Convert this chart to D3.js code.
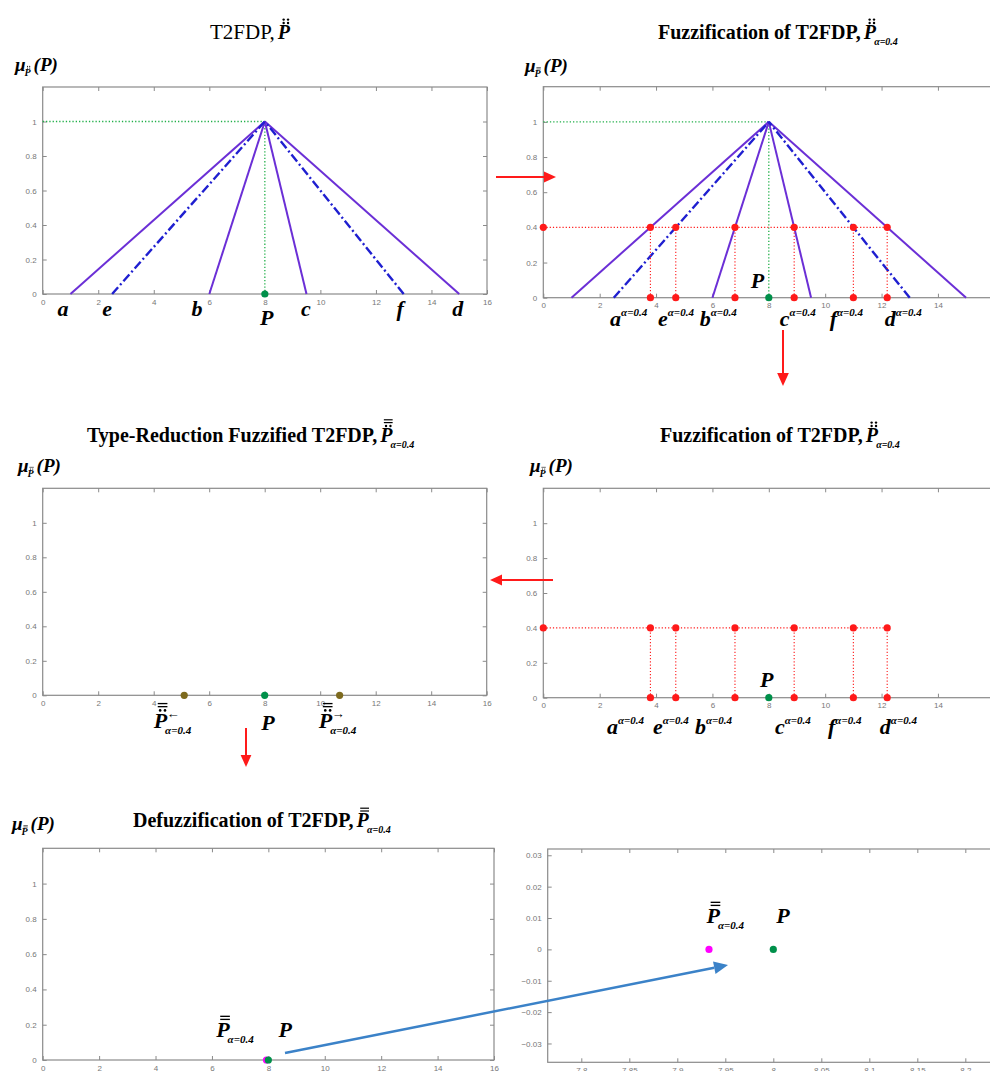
<!DOCTYPE html>
<html>
<head>
<meta charset="utf-8">
<script src="https://cdn.jsdelivr.net/npm/d3@7"></script>
<style>
body{margin:0;background:#fff}
.tick-lab{font-family:Arial,"Liberation Sans",sans-serif;font-size:8px;fill:#777}
.lab{font-family:"Liberation Serif",serif;font-style:italic;font-weight:bold;fill:#000}
.ttl{font-family:"Liberation Serif",serif;fill:#000}
</style>
</head>
<body>
<div id="chart"></div>
<script>
// ---- data ----
var apex = [8, 1]
var solidFeet = [1, 6, 9.5, 15]        // a, b, c, d
var dashFeet = [2.5, 13]               // e, f
var alphaLevel = 0.4
var cutNames = ["a", "e", "b", "c", "f", "d"]
var alphaCuts = [3.8, 4.7, 6.8, 8.9, 11, 12.2]
var reducedPts = [5.1, 10.7]           // left / right type-reduced values
var defuzzPt = 7.933
var crispP = 8
var xTicks = [0, 2, 4, 6, 8, 10, 12, 14, 16]
var yTicks = [0, 0.2, 0.4, 0.6, 0.8, 1]
var zoomXTicks = [7.8, 7.85, 7.9, 7.95, 8, 8.05, 8.1, 8.15, 8.2]
var zoomYTicks = [-0.03, -0.02, -0.01, 0, 0.01, 0.02, 0.03]

// label anchors (data units)
var p1LabelX = [0.73, 2.32, 5.56, 9.48, 12.87, 14.95]
var p2LabelX = [2.37, 4.07, 5.55, 8.39, 10.16, 12.11]
var p4LabelX = [2.26, 3.89, 5.38, 8.22, 10.1, 11.94]

var purple = "#6b2fd6", blue = "#1f1fd0", red = "#ff1a1a", green = "#00904a"

var svg = d3.select("#chart").append("svg")
    .attr("width", 990).attr("height", 1071)

function makePanel(left, top, w, h, xDom, yDom, xt, yt, fmt) {
    var g = svg.append("g").attr("transform", "translate(" + left + "," + top + ")")
    var x = d3.scaleLinear().domain(xDom).range([0, w])
    var y = d3.scaleLinear().domain(yDom).range([h, 0])
    g.append("rect").attr("width", w).attr("height", h)
        .attr("fill", "none").attr("stroke", "#8a8a8a").attr("stroke-width", 1.2)
    var tl = 4
    // inward ticks on all four sides, MATLAB style
    g.append("g").attr("transform", "translate(0," + h + ")")
        .call(d3.axisBottom(x).tickValues(xt).tickSizeInner(-tl).tickSizeOuter(0).tickFormat(fmt || d3.format("")).tickPadding(5))
    g.append("g")
        .call(d3.axisTop(x).tickValues(xt).tickSizeInner(-tl).tickSizeOuter(0).tickFormat(""))
    g.append("g")
        .call(d3.axisLeft(y).tickValues(yt).tickSizeInner(-tl).tickSizeOuter(0).tickFormat(fmt || d3.format("")).tickPadding(6))
    g.append("g").attr("transform", "translate(" + w + ",0)")
        .call(d3.axisRight(y).tickValues(yt).tickSizeInner(-tl).tickSizeOuter(0).tickFormat(""))
    g.selectAll(".domain").remove()
    g.selectAll(".tick line").attr("stroke", "#8a8a8a")
    g.selectAll(".tick text").attr("class", "tick-lab").attr("font-size", null).attr("font-family", null).attr("fill", null)
    return {g: g, x: x, y: y}
}

// italic bold P with accents stacked above, optional sub / sup
function accentP(g, x, y, size, marks, sub, sup) {
    var t = g.append("text").attr("class", "lab").attr("x", x).attr("y", y)
        .attr("font-size", size).text("P")
    var w = t.node().getComputedTextLength()
    var cx = x + w * 0.66, cy = y - size * 0.8
    marks.forEach(function (m) {
        if (m == "dots") {
            g.append("circle").attr("cx", cx - size * 0.11).attr("cy", cy).attr("r", size * 0.06).attr("fill", "#000")
            g.append("circle").attr("cx", cx + size * 0.11).attr("cy", cy).attr("r", size * 0.06).attr("fill", "#000")
            cy -= size * 0.17
        } else {
            g.append("line").attr("x1", cx - size * 0.22).attr("x2", cx + size * 0.22)
                .attr("y1", cy).attr("y2", cy).attr("stroke", "#000").attr("stroke-width", size * 0.06)
            cy -= size * 0.14
        }
    })
    if (sub) g.append("text").attr("class", "lab").attr("x", x + w * 0.85).attr("y", y + size * 0.28)
        .attr("font-size", size * 0.5).text(sub)
    if (sup) g.append("text").attr("class", "lab").attr("x", x + w * 0.95).attr("y", y - size * 0.45)
        .attr("font-size", size * 0.6).attr("font-style", "normal").text(sup)
    return w
}

function title(x, y, str, marks, sub, bold) {
    var t = svg.append("text").attr("class", "ttl").attr("x", x).attr("y", y)
        .attr("font-size", bold ? 20 : 21).attr("font-weight", bold ? "bold" : "normal").text(str)
    var w = t.node().getComputedTextLength()
    accentP(svg, x + w + 3, y, 20, marks, sub)
}

function muLabel(x, y, marks) {
    var t = svg.append("text").attr("class", "lab").attr("x", x).attr("y", y).attr("font-size", 19).text("\u03bc")
    var w = t.node().getComputedTextLength()
    accentP(svg, x + w - 1, y + 5, 10, marks)
    svg.append("text").attr("class", "lab").attr("x", x + w + 8).attr("y", y).attr("font-size", 19).text("(P)")
}

function supLabel(g, x, y, base, sup) {
    var t = g.append("text").attr("class", "lab").attr("x", x).attr("y", y)
    t.append("tspan").attr("font-size", 22).text(base)
    t.append("tspan").attr("dy", -10).attr("font-size", 11).text(sup)
}

function dot(g, cx, cy, col, r) {
    g.append("circle").attr("cx", cx).attr("cy", cy).attr("r", r || 3.6).attr("fill", col)
}

function drawTriangles(p) {
    var line = d3.line().x(function (d) { return p.x(d[0]) }).y(function (d) { return p.y(d[1]) })
    // green guides
    p.g.append("path").attr("d", line([[0, apex[1]], apex])).attr("stroke", "#22b04a").attr("stroke-width", 1.3)
        .attr("stroke-dasharray", "1.3,2").attr("fill", "none")
    p.g.append("path").attr("d", line([apex, [apex[0], 0]])).attr("stroke", "#22b04a").attr("stroke-width", 1.3)
        .attr("stroke-dasharray", "1.3,2").attr("fill", "none")
    solidFeet.forEach(function (f) {
        p.g.append("path").attr("d", line([[f, 0], apex])).attr("stroke", purple).attr("stroke-width", 2).attr("fill", "none")
    })
    dashFeet.forEach(function (f) {
        p.g.append("path").attr("d", line([[f, 0], apex])).attr("stroke", blue).attr("stroke-width", 2.4)
            .attr("stroke-dasharray", "9,3,2,3").attr("fill", "none")
    })
}

function drawCuts(p) {
    var line = d3.line().x(function (d) { return p.x(d[0]) }).y(function (d) { return p.y(d[1]) })
    p.g.append("path").attr("d", line([[0, alphaLevel], [d3.max(alphaCuts), alphaLevel]]))
        .attr("stroke", red).attr("stroke-width", 1.1).attr("stroke-dasharray", "1.2,2").attr("fill", "none")
    alphaCuts.forEach(function (c) {
        p.g.append("path").attr("d", line([[c, 0], [c, alphaLevel]]))
            .attr("stroke", red).attr("stroke-width", 1.1).attr("stroke-dasharray", "1.2,2").attr("fill", "none")
    })
    dot(p.g, p.x(0), p.y(alphaLevel), red)
    alphaCuts.forEach(function (c) {
        dot(p.g, p.x(c), p.y(alphaLevel), red)
        dot(p.g, p.x(c), p.y(0), red)
    })
}

// ---- panel 1 : T2FDP ----
var p1 = makePanel(42.7, 87, 444.3, 207, [0, 16], [0, 1.2], xTicks, yTicks)
drawTriangles(p1)
dot(p1.g, p1.x(crispP), p1.y(0), green)
cutNames.forEach(function (n, i) {
    p1.g.append("text").attr("class", "lab").attr("font-size", 22).attr("text-anchor", "middle")
        .attr("x", p1.x(p1LabelX[i])).attr("y", 316 - 87).text(n)
})
p1.g.append("text").attr("class", "lab").attr("font-size", 22).attr("text-anchor", "middle")
    .attr("x", p1.x(8.07)).attr("y", 325 - 87).text("P")

// ---- panel 2 : fuzzification ----
var p2 = makePanel(543.3, 86.7, 451, 211, [0, 16], [0, 1.2], xTicks, yTicks)
drawTriangles(p2)
drawCuts(p2)
dot(p2.g, p2.x(crispP), p2.y(0), green)
cutNames.forEach(function (n, i) {
    supLabel(p2.g, p2.x(p2LabelX[i]), 326 - 86.7, n, "\u03b1=0.4")
})
p2.g.append("text").attr("class", "lab").attr("font-size", 22).attr("text-anchor", "middle")
    .attr("x", p2.x(7.6)).attr("y", 288 - 86.7).text("P")

// ---- panel 3 : type reduction ----
var p3 = makePanel(42.7, 488.3, 444, 207, [0, 16], [0, 1.2], xTicks, yTicks)
reducedPts.forEach(function (v) { dot(p3.g, p3.x(v), p3.y(0), "#7d6a1e") })
dot(p3.g, p3.x(crispP), p3.y(0), green)
accentP(p3.g, p3.x(4.0), 728 - 488.3, 22, ["dots", "bar", "bar"], "\u03b1=0.4", "\u2190")
accentP(p3.g, p3.x(9.95), 728 - 488.3, 22, ["dots", "bar", "bar"], "\u03b1=0.4", "\u2192")
p3.g.append("text").attr("class", "lab").attr("font-size", 22).attr("text-anchor", "middle")
    .attr("x", p3.x(8.12)).attr("y", 730 - 488.3).text("P")

// ---- panel 4 : alpha cuts only ----
var p4 = makePanel(543.3, 488.3, 451, 209.4, [0, 16], [0, 1.2], xTicks, yTicks)
drawCuts(p4)
dot(p4.g, p4.x(crispP), p4.y(0), green)
cutNames.forEach(function (n, i) {
    supLabel(p4.g, p4.x(p4LabelX[i]), 734 - 488.3, n, "\u03b1=0.4")
})
p4.g.append("text").attr("class", "lab").attr("font-size", 22).attr("text-anchor", "middle")
    .attr("x", p4.x(7.93)).attr("y", 687 - 488.3).text("P")

// ---- panel 5 : defuzzification ----
var p5 = makePanel(42.7, 848.3, 451.3, 211.7, [0, 16], [0, 1.2], xTicks, yTicks)
dot(p5.g, p5.x(defuzzPt), p5.y(0), "#ff00ff")
dot(p5.g, p5.x(crispP), p5.y(0), green)
accentP(p5.g, p5.x(6.15), 1037 - 848.3, 22, ["bar", "bar"], "\u03b1=0.4")
p5.g.append("text").attr("class", "lab").attr("font-size", 22).attr("text-anchor", "middle")
    .attr("x", p5.x(8.6)).attr("y", 1037 - 848.3).text("P")

// ---- panel 6 : zoom around P ----
var p6 = makePanel(547.7, 849, 447, 213.3, [7.765, 8.2306], [-0.036, 0.032], zoomXTicks, zoomYTicks, d3.format(""))
dot(p6.g, p6.x(defuzzPt), p6.y(0), "#ff00ff")
dot(p6.g, p6.x(crispP), p6.y(0), green)
accentP(p6.g, p6.x(7.9305), 923 - 849, 22, ["bar", "bar"], "\u03b1=0.4")
p6.g.append("text").attr("class", "lab").attr("font-size", 22).attr("text-anchor", "middle")
    .attr("x", p6.x(8.01)).attr("y", 923 - 849).text("P")

// ---- titles and axis labels ----
title(210, 39, "T2FDP, ", ["dots", "dots"], null, false)
title(658, 39, "Fuzzification of T2FDP, ", ["dots", "dots"], "\u03b1=0.4", true)
title(87, 442, "Type-Reduction Fuzzified T2FDP, ", ["dots", "bar", "bar"], "\u03b1=0.4", true)
title(660, 442, "Fuzzification of T2FDP, ", ["dots", "dots"], "\u03b1=0.4", true)
title(133, 827, "Defuzzification of T2FDP, ", ["bar", "bar"], "\u03b1=0.4", true)

muLabel(15, 71, ["dots", "dots"])
muLabel(525, 72, ["bar", "bar"])
muLabel(18, 472, ["dots", "bar"])
muLabel(530, 472, ["dots", "bar"])
muLabel(12, 830, ["bar", "bar"])

// ---- flow arrows ----
function arrow(x1, y1, x2, y2, col, sw, hl) {
    var ang = Math.atan2(y2 - y1, x2 - x1)
    var bx = x2 - hl * Math.cos(ang), by = y2 - hl * Math.sin(ang)
    svg.append("line").attr("x1", x1).attr("y1", y1).attr("x2", bx).attr("y2", by)
        .attr("stroke", col).attr("stroke-width", sw)
    var hw = hl * 0.45
    svg.append("path").attr("fill", col).attr("d",
        "M" + x2 + "," + y2 +
        "L" + (bx + hw * Math.sin(ang)) + "," + (by - hw * Math.cos(ang)) +
        "L" + (bx - hw * Math.sin(ang)) + "," + (by + hw * Math.cos(ang)) + "Z")
}
arrow(496, 177, 556, 177, red, 2, 12)
arrow(783, 330, 783, 386, red, 2, 13)
arrow(553, 580, 490, 580, red, 2, 12)
arrow(246, 728, 246, 767, red, 2, 12)
arrow(285, 1053, 728, 965, "#3b82c8", 2.5, 14)
</script>
</body>
</html>
